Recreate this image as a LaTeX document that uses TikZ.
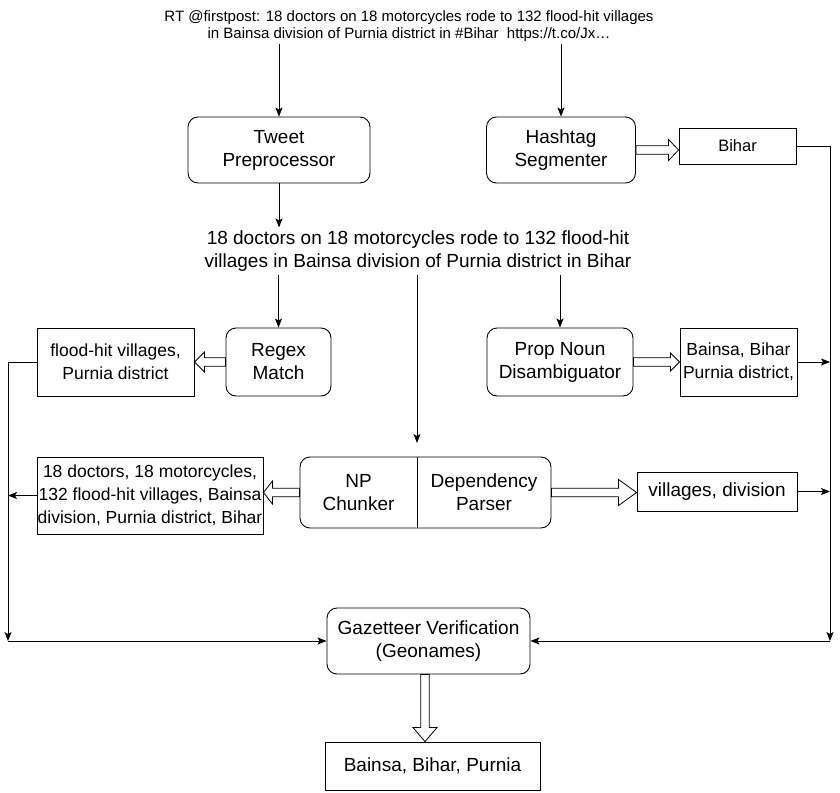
\documentclass[tikz,border=0pt]{standalone}
\usepackage{fontspec}
\setmainfont{Liberation Sans}
\usetikzlibrary{arrows.meta,decorations.markings}
\begin{document}
\begin{tikzpicture}[x=1pt,y=-1pt,
  base/.style={draw, line width=0.9pt, align=center, inner sep=0pt,
    font=\fontsize{19}{23}\selectfont},
  proc/.style={base, rounded corners=10pt},
  res/.style={base},
  txt/.style={align=center, inner sep=3pt},
  arr/.style={draw, line width=0.9pt, -{Stealth[length=9pt,width=7pt,inset=2pt]}},
  % block arrow: #1 = head length, #2 = head half width
  hollow/.style 2 args={decorate, decoration={markings,
    mark=at position 1 with {
      \filldraw[draw=black, fill=white, line width=0.8pt, line join=miter]
        (0pt,0pt) -- (-#1,#2) -- (-#1,4.2pt)
        -- (-\pgfdecoratedpathlength+0pt,4.2pt)
        -- (-\pgfdecoratedpathlength+0pt,-4.2pt)
        -- (-#1,-4.2pt) -- (-#1,-#2) -- cycle;}}}]

\fill[white] (0,0) rectangle (840,792);
\useasboundingbox (0,0) rectangle (840,792);

% input tweet
\node[txt, font=\fontsize{15}{16.5}\selectfont] (tw) at (409,26)
  {RT @firstpost: 18 doctors on 18 motorcycles rode to 132 flood-hit villages\\
   in Bainsa division of Purnia district in \#Bihar\ \ https://t.co/Jx\ldots};

% first stage
\node[proc, minimum width=182, minimum height=66] (tp) at (279,150) {Tweet\\Preprocessor};
\node[proc, minimum width=149, minimum height=66] (hs) at (561,150) {Hashtag\\Segmenter};
\node[res, minimum width=117, minimum height=36, font=\fontsize{16.5}{19}\selectfont] (bihar) at (737.5,146) {Bihar};

% cleaned text
\node[txt, font=\fontsize{19}{23}\selectfont] (mid) at (418,251)
  {18 doctors on 18 motorcycles rode to 132 flood-hit\\
   villages in Bainsa division of Purnia district in Bihar};

% second stage
\node[proc, minimum width=105, minimum height=68] (regex) at (278.5,362) {Regex\\Match};
\node[res, minimum width=157, minimum height=68, font=\fontsize{17.5}{23}\selectfont] (flood) at (115.5,362) {flood-hit villages,\\Purnia district};
\node[proc, minimum width=146, minimum height=68] (pn) at (560,362) {Prop Noun\\Disambiguator};
\node[res, minimum width=117, minimum height=68, font=\fontsize{17.5}{23}\selectfont] (bainsa) at (738.5,362) {Bainsa, Bihar\\Purnia district,};

% chunker / parser
\node[proc, minimum width=251, minimum height=71] (np) at (425.5,492.5) {};
\coordinate (npdiv) at (417,457);
\draw[line width=0.9pt] (npdiv) -- (npdiv |- np.south);
\node[txt, font=\fontsize{19}{23}\selectfont] (npc) at (358.5,492.5) {NP\\Chunker};
\node[txt, font=\fontsize{19}{23}\selectfont] (dpp) at (484,492.5) {Dependency\\Parser};
\node[res, minimum width=226, minimum height=77, font=\fontsize{17.5}{23}\selectfont] (docs) at (150,495.5)
  {18 doctors, 18 motorcycles,\\132 flood-hit villages, Bainsa\\division, Purnia district, Bihar};
\node[res, minimum width=160, minimum height=39] (vill) at (717,491.5) {villages, division};

% verification and output
\node[proc, minimum width=203, minimum height=66] (gaz) at (428.5,641) {Gazetteer Verification\\(Geonames)};
\node[res, minimum width=215, minimum height=48] (out) at (432.5,766) {Bainsa, Bihar, Purnia};

% collector lines
\coordinate (lc) at (8,641);
\coordinate (rc) at (830,641);

% plain connectors
\draw[arr] (tw.south -| tp.north) -- (tp.north);
\draw[arr] (tw.south -| hs.north) -- (hs.north);
\draw[arr] (tp.south) -- (tp.south |- mid.north);
\draw[arr] (mid.south -| regex.north) -- (regex.north);
\draw[arr, shorten >=14pt] (mid.south -| npdiv) -- (npdiv);
\draw[arr] (mid.south -| pn.north) -- (pn.north);

\draw[arr] (flood.west) -| (lc);
\draw[arr] (docs.west) -- (docs.west -| lc);
\draw[arr] (bihar.east) -| (rc);
\draw[arr] (bainsa.east) -- (bainsa.east -| rc);
\draw[arr] (vill.east) -- (vill.east -| rc);
\draw[arr] (lc) -- (gaz.west);
\draw[arr] (rc) -- (gaz.east);

% block-arrow connectors
\path[hollow={10pt}{10.5pt}] (hs.east) -- (hs.east -| bihar.west);
\path[hollow={10pt}{10pt}] (regex.west) -- (flood.east);
\path[hollow={9pt}{9pt}] (pn.east) -- (bainsa.west);
\path[hollow={9pt}{11.5pt}] (np.west) -- (np.west -| docs.east);
\path[hollow={18pt}{13pt}] (np.east) -- (np.east -| vill.west);
\path[hollow={14pt}{12pt}] (gaz.south -| 425,0) -- (out.north -| 425,0);
\end{tikzpicture}
\end{document}
